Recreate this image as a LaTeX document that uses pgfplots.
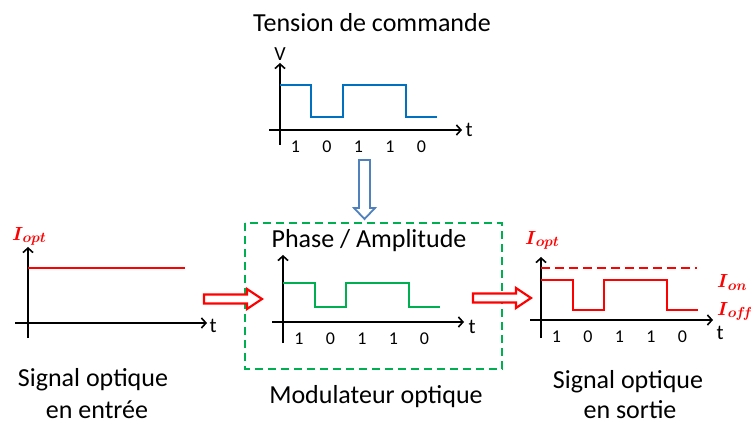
\RequirePackage{fix-cm}
\documentclass[border=0pt]{standalone}
\usepackage{pgfplots}
\pgfplotsset{compat=1.18}
\usepackage{bm}
\usepackage{fontspec}
\setmainfont{Carlito}
\usetikzlibrary{arrows.meta}
\definecolor{sigblue}{HTML}{0070C0}
\definecolor{arrblue}{HTML}{4F81BD}
\definecolor{mgreen}{HTML}{00B050}
\definecolor{mred}{HTML}{FF0000}
\newcommand{\Ilab}[1]{\textcolor{mred}{{\fontsize{19}{21}\selectfont$\bm{I}$}\kern-0.5pt\raisebox{-2.5pt}{\fontsize{14.5}{16}\selectfont$\bm{#1}$}}}
\pgfplotsset{
  sig/.style={
    scale only axis, axis lines=middle, anchor=origin, clip=false,
    axis line style={line width=1.6pt, -{Straight Barb[length=4.5pt,width=10pt,line width=1.6pt]}},
    ytick=\empty, major tick length=0pt,
    xtick={15.5,47,78.5,110,141.5}, xticklabels={1,0,1,1,0},
    xticklabel style={font=\fontsize{18}{21}\selectfont, yshift=-7pt},
    xlabel={t},
    x label style={at={(current axis.right of origin)}, anchor=west, font=\fontsize{21}{25}\selectfont},
    y label style={at={(current axis.above origin)}, anchor=south, rotate=0},
  },
}
\begin{document}
\begin{tikzpicture}
% ---- Tension de commande
\begin{axis}[sig, at={(280pt,293pt)}, width=193pt, height=82pt,
  xmin=-11, xmax=182, ymin=-15, ymax=67,
  ylabel={V}, y label style={font=\fontsize{20}{24}\selectfont, inner sep=0pt, yshift=2pt}]
\addplot[sigblue, line width=1.6pt, const plot] coordinates {(0,45)(31,13)(63,45)(94,45)(126,13)(157,13)};
\end{axis}
% ---- Modulateur
\begin{axis}[sig, at={(283pt,101pt)}, width=192pt, height=88pt,
  xmin=-11, xmax=181, ymin=-21, ymax=67,
  xtick={16,47.5,79,110.5,141.5},
  x label style={xshift=1pt, yshift=-5pt}]
\addplot[mgreen, line width=1.6pt, const plot] coordinates {(0,39)(32,15)(63,39)(95,39)(126,15)(157,15)};
\end{axis}
% ---- Entree
\begin{axis}[sig, at={(28pt,100pt)}, width=192pt, height=91pt,
  xmin=-13, xmax=179, ymin=-15, ymax=76, xtick=\empty,
  x label style={xshift=-1pt, yshift=-3pt},
  ylabel={\Ilab{opt}}, y label style={inner sep=1pt, xshift=1pt}]
\addplot[mred, line width=1.6pt] coordinates {(0,55)(157,55)};
\end{axis}
% ---- Sortie
\begin{axis}[sig, at={(541pt,103pt)}, width=183pt, height=81pt,
  xmin=-11, xmax=172, ymin=-18, ymax=63,
  x label style={yshift=-13pt},
  ylabel={\Ilab{opt}}, y label style={inner sep=1pt, yshift=6pt, xshift=1pt}]
\addplot[mred, line width=1.6pt, dash pattern=on 9pt off 5pt] coordinates {(0,52)(156,52)};
\addplot[mred, line width=1.6pt, const plot] coordinates {(0,40)(32,10)(63,40)(95,40)(126,10)(157,10)};
\node[anchor=base west, inner sep=0pt] at (axis cs:176,32) {\Ilab{on}};
\node[anchor=base west, inner sep=0pt] at (axis cs:176,5) {\Ilab{o\mkern-1mu f\mkern-3mu f}};
\end{axis}
\begin{scope}[x=1pt, y=1pt]
% texts
\node[anchor=base, font=\fontsize{26}{30}\selectfont, inner sep=0pt] at (372,391) {Tension de commande};
\node[anchor=base, font=\fontsize{26}{30}\selectfont, inner sep=0pt] at (369,175) {Phase / Amplitude};
\node[anchor=base, font=\fontsize{26}{30}\selectfont, inner sep=0pt] at (376,20) {Modulateur optique};
\node[anchor=base, font=\fontsize{26}{30}\selectfont, inner sep=0pt] at (93,37) {Signal optique};
\node[anchor=base, font=\fontsize{26}{30}\selectfont, inner sep=0pt] at (97,5) {en entrée};
\node[anchor=base, font=\fontsize{26}{30}\selectfont, inner sep=0pt] at (628,35) {Signal optique};
\node[anchor=base, font=\fontsize{26}{30}\selectfont, inner sep=0pt] at (630,5) {en sortie};
% dashed box
\draw[mgreen, line width=2.6pt, dash pattern=on 8pt off 5pt] (245,200) rectangle (502,54);
% hollow arrows
\draw[mred, line width=2.2pt, fill=white, line join=miter]
  (204,119.5) -- (247,119.5) -- (247,114) -- (262,124) -- (247,134) -- (247,128.5) -- (204,128.5) -- cycle;
\draw[mred, line width=2.2pt, fill=white, line join=miter]
  (473,120.5) -- (516,120.5) -- (516,115) -- (531,125) -- (516,135) -- (516,129.5) -- (473,129.5) -- cycle;
\draw[arrblue, line width=1.8pt, fill=white, line join=miter]
  (359,263) -- (370,263) -- (370,215) -- (375,215) -- (364.5,204) -- (354,215) -- (359,215) -- cycle;
\end{scope}
\pgfresetboundingbox
\path (0,0) rectangle (751pt,423pt);
\end{tikzpicture}
\end{document}
